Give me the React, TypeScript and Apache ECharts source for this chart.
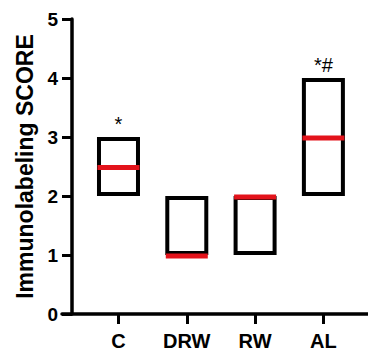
import React, { useEffect, useRef } from "react";
import * as echarts from "echarts";

const categories = ["C", "DRW", "RW", "AL"];
const positions = [1, 2, 3, 4];
const minValues = [2, 1, 1, 2];
const maxValues = [3, 2, 2, 4];
const medianValues = [2.5, 1, 2, 3];
const significance = ["*", "", "", "*#"];
const yTicks = [0, 1, 2, 3, 4, 5];

const FONT = "'Liberation Sans', Arial, Helvetica, sans-serif";

export default function App() {
  const ref = useRef<HTMLDivElement>(null);
  useEffect(() => {
    if (!ref.current) return;
    const chart = echarts.init(ref.current, undefined, { renderer: "svg" });
    const data = positions.map((p, i) => [p, minValues[i], maxValues[i], medianValues[i], i]);
    chart.setOption({
      animation: false,
      backgroundColor: "#ffffff",
      grid: { left: 62, right: 0, top: 19, bottom: 44 },
      xAxis: {
        type: "value",
        min: 0.173,
        max: 4.653,
        splitLine: { show: false },
        axisLine: { show: true, onZero: false, lineStyle: { color: "#000", width: 3.5 } },
        axisTick: {
          show: true,
          customValues: positions,
          length: 10,
          lineStyle: { color: "#000", width: 3 },
        },
        axisLabel: {
          show: true,
          customValues: positions,
          formatter: (v: number) => categories[Math.round(v) - 1] ?? "",
          margin: 17,
          color: "#000",
          fontSize: 20,
          fontWeight: "bold",
          fontFamily: FONT,
        },
      },
      yAxis: {
        type: "value",
        min: yTicks[0],
        max: yTicks[yTicks.length - 1],
        interval: 1,
        offset: -10,
        splitLine: { show: false },
        axisLine: { show: true, lineStyle: { color: "#000", width: 3.5 } },
        axisTick: { show: true, length: 10, lineStyle: { color: "#000", width: 3 } },
        axisLabel: {
          margin: 14,
          color: "#000",
          fontSize: 19,
          fontWeight: "bold",
          fontFamily: FONT,
        },
        name: "Immunolabeling SCORE",
        nameLocation: "middle",
        nameGap: 36,
        nameTextStyle: {
          color: "#000",
          fontSize: 23,
          fontWeight: "bold",
          fontFamily: FONT,
        },
      },
      series: [
        {
          type: "custom",
          data,
          clip: false,
          renderItem: (params: any, api: any) => {
            const x = api.value(0);
            const lo = api.coord([x, api.value(1)]);
            const hi = api.coord([x, api.value(2)]);
            const med = api.coord([x, api.value(3)]);
            const idx = api.value(4);
            const hw = 19.5;
            const lw = 4;
            const children: any[] = [
              {
                type: "rect",
                shape: { x: lo[0] - hw, y: hi[1] + lw / 2, width: 2 * hw, height: lo[1] - hi[1] - lw },
                style: { fill: "none", stroke: "#000", lineWidth: lw },
              },
              {
                type: "line",
                shape: { x1: med[0] - hw - 1.5, y1: med[1] + 1, x2: med[0] + hw + 1.5, y2: med[1] + 1 },
                style: { stroke: "#e3131b", lineWidth: 5 },
              },
            ];
            const label = significance[idx];
            if (label) {
              children.push({
                type: "text",
                x: hi[0],
                y: hi[1] - 3,
                style: {
                  text: label,
                  fill: "#000",
                  fontSize: 20,
                  fontFamily: FONT,
                  align: "center",
                  verticalAlign: "bottom",
                },
              });
            }
            return { type: "group", children };
          },
        },
      ],
    });
    return () => chart.dispose();
  }, []);
  return (
    <div
      ref={ref}
      style={{ position: "absolute", left: 0, top: 0, width: 368, height: 358 }}
    />
  );
}
